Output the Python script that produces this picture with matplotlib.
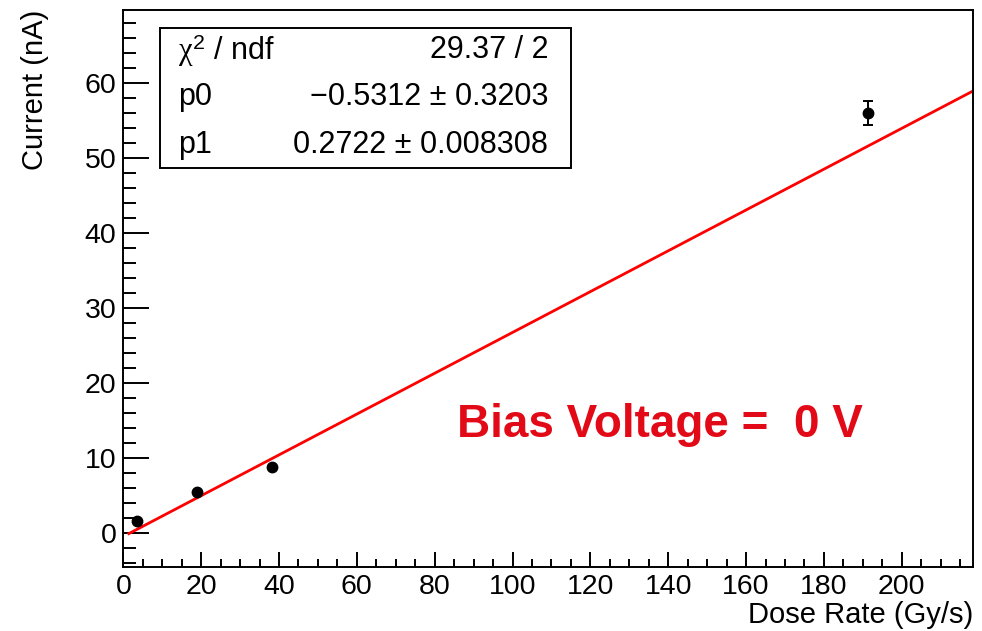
import matplotlib
matplotlib.use("Agg")
import numpy as np
from matplotlib import pyplot as plt
from matplotlib.ticker import MultipleLocator
from matplotlib.patches import Rectangle

plt.rcParams['font.family'] = ['Liberation Sans', 'DejaVu Sans']
plt.rcParams['mathtext.fontset'] = 'custom'
plt.rcParams['mathtext.rm'] = 'Liberation Sans'
plt.rcParams['mathtext.it'] = 'Liberation Serif'

# measured points
dose_rate = [3.4, 18.8, 38.1, 191.4]
current = [1.6, 5.4, 8.7, 55.9]
current_err = [0.0, 0.0, 0.0, 1.6]

# linear fit result: I = p0 + p1 * D
p0, p0_err = -0.5312, 0.3203
p1, p1_err = 0.2722, 0.008308
chi2, ndf = 29.37, 2
fit_range = (1.4, 218.3)

fig = plt.figure(figsize=(9.82, 6.31), dpi=100)
ax = fig.add_axes([0.1256, 0.1014, 0.8652, 0.8828])

xf = np.linspace(fit_range[0], fit_range[1], 2)
ax.plot(xf, p0 + p1 * xf, color='#ff0000', lw=2.0, zorder=2)

ax.errorbar(dose_rate, current, yerr=current_err, fmt='o', color='black',
            ms=7.5, elinewidth=1.4, capsize=3.5, capthick=1.4, zorder=3)

ax.set_xlim(0, 218.3)
ax.set_ylim(-4.6, 69.7)

ax.xaxis.set_major_locator(MultipleLocator(20))
ax.xaxis.set_minor_locator(MultipleLocator(5))
ax.yaxis.set_major_locator(MultipleLocator(10))
ax.yaxis.set_minor_locator(MultipleLocator(2))
ax.tick_params(axis='both', which='both', direction='in', width=1.4,
               labelsize=20.5, top=False, right=False)
ax.tick_params(axis='y', which='major', length=19, pad=5)
ax.tick_params(axis='y', which='minor', length=9.5)
ax.tick_params(axis='x', which='major', length=11, pad=5)
ax.tick_params(axis='x', which='minor', length=5.8)
for s in ax.spines.values():
    s.set_linewidth(1.4)

ax.set_xlabel('Dose Rate (Gy/s)', fontsize=21, loc='right')
ax.xaxis.set_label_coords(1.0, -0.061)
ax.set_ylabel('Current (nA)', fontsize=21, loc='top')
ax.yaxis.set_label_coords(-0.088, 1.0)

# stats box
ax.add_patch(Rectangle((0.0427, 0.716), 0.4843, 0.252, transform=ax.transAxes,
                       facecolor='white', edgecolor='black', lw=1.4, zorder=4))
rows = [(r'$\chi^2$ / ndf', f'{chi2:.2f} / {ndf}'),
        ('p0', f'\u2212{abs(p0):.4f} \u00b1 {p0_err:.4f}'),
        ('p1', f'{p1:.4f} \u00b1 {p1_err:.6f}')]
for i, (name, val) in enumerate(rows):
    y = 0.928 - i * 0.085
    ax.text(0.064, y, name, transform=ax.transAxes, fontsize=22,
            va='center', ha='left', zorder=5)
    ax.text(0.5, y, val, transform=ax.transAxes, fontsize=22,
            va='center', ha='right', zorder=5)

ax.text(0.631, 0.2334, 'Bias Voltage =  0 V', transform=ax.transAxes,
        fontsize=33, fontweight='bold', color='#e20a17', ha='center',
        va='baseline')

fig.savefig('out.png', dpi=100)
